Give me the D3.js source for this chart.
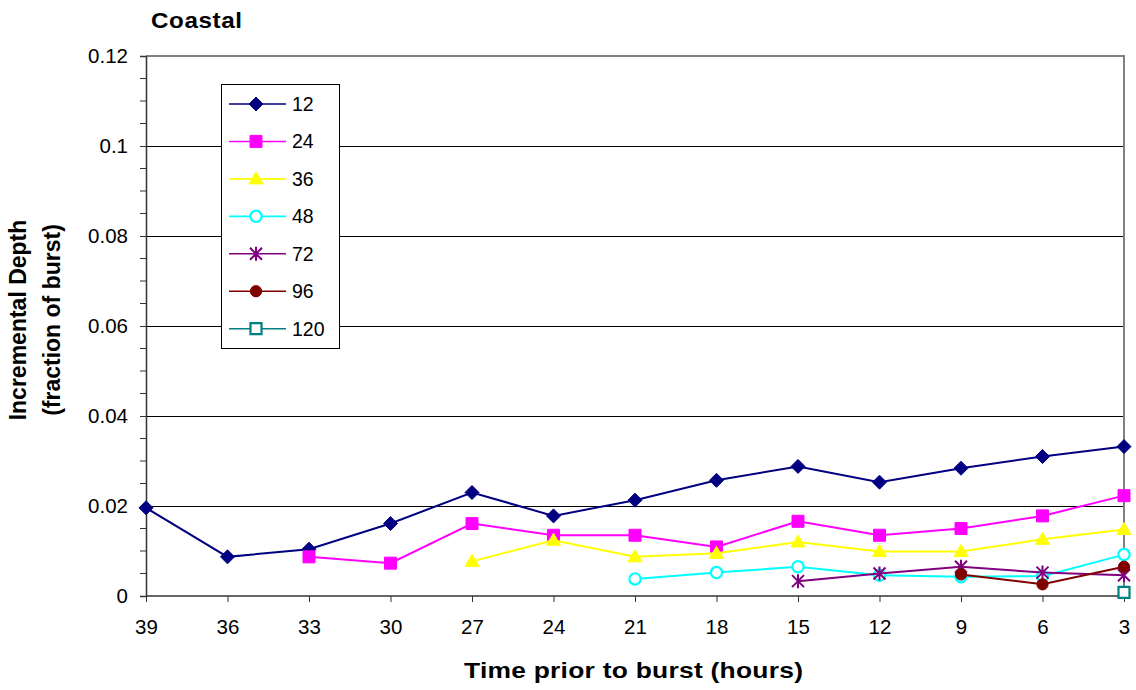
<!DOCTYPE html>
<html><head><meta charset="utf-8">
<script src="https://cdn.jsdelivr.net/npm/d3@7"></script>
<style>body{margin:0;background:#fff}svg{display:block}text{font-family:"Liberation Sans",Arial,sans-serif}</style>
</head><body>
<svg id="c" width="1136" height="690"></svg>
<script>
const hours = [39,36,33,30,27,24,21,18,15,12,9,6,3];
const s12  = [0.0196,0.0087,0.0104,0.0161,0.0230,0.0178,0.0213,0.0257,0.0288,0.0253,0.0284,0.0310,0.0332];
const s24  = [null,null,0.0087,0.0073,0.0161,0.0135,0.0135,0.0109,0.0166,0.0135,0.0150,0.0178,0.0223];
const s36  = [null,null,null,null,0.0077,0.0124,0.0087,0.0095,0.0120,0.0099,0.0099,0.0126,0.0148];
const s48  = [null,null,null,null,null,null,0.0038,0.0052,0.0065,0.0046,0.0043,0.0044,0.0092];
const s72  = [null,null,null,null,null,null,null,null,0.0033,0.0050,0.0065,0.0052,0.0046];
const s96  = [null,null,null,null,null,null,null,null,null,null,0.0048,0.0026,0.0065];
const s120 = [null,null,null,null,null,null,null,null,null,null,null,null,0.0008];
const seriesNames = ["12","24","36","48","72","96","120"];
const yTicks = [0,0.02,0.04,0.06,0.08,0.1,0.12];
const yTickLabels = ["0","0.02","0.04","0.06","0.08","0.1","0.12"];

const series = [
  {name:"12", values:s12, color:"#000080", marker:"diamond", fill:true},
  {name:"24", values:s24, color:"#ff00ff", marker:"square", fill:true},
  {name:"36", values:s36, color:"#ffff00", marker:"triangle", fill:true},
  {name:"48", values:s48, color:"#00ffff", marker:"circle", fill:false},
  {name:"72", values:s72, color:"#800080", marker:"star", fill:true},
  {name:"96", values:s96, color:"#800000", marker:"circle", fill:true},
  {name:"120", values:s120, color:"#008080", marker:"square", fill:false}
];

const svg = d3.select("#c");
const L=146, R=1124, T=56, B=596;
const x = d3.scalePoint().domain(hours).range([L,R]);
const y = d3.scaleLinear().domain([0,0.12]).range([B,T]);

// gridlines
svg.append("g").selectAll("line").data(yTicks.filter(d=>d>0 && d<0.12)).join("line")
  .attr("x1",L).attr("x2",R).attr("y1",d=>y(d)).attr("y2",d=>y(d))
  .attr("stroke","#000").attr("stroke-width",1).attr("shape-rendering","crispEdges");
// top/right border
svg.append("path").attr("d",`M${L},${y(0.12)}H${R}V${B}`).attr("fill","none")
  .attr("stroke","#808080").attr("stroke-width",1.5).attr("shape-rendering","crispEdges");

// y axis
const yAxis = d3.axisLeft(y).tickValues(yTicks).tickFormat((d,i)=>yTickLabels[i]).tickSize(6).tickPadding(12);
const ga = svg.append("g").attr("transform",`translate(${L},0)`).call(yAxis);
ga.select(".domain").attr("stroke","#333").attr("stroke-width",1.5);
ga.selectAll(".tick line").attr("stroke","#333");
ga.selectAll("text").attr("font-size",20.5).attr("fill","#000").style("font-family","Liberation Sans, Arial");
// minor ticks
const minor = d3.range(0,0.1201,0.005).filter(v=>Math.abs(v/0.02-Math.round(v/0.02))>1e-6);
svg.append("g").selectAll("line").data(minor).join("line")
  .attr("x1",L-6).attr("x2",L).attr("y1",d=>y(d)).attr("y2",d=>y(d)).attr("stroke","#333");

// x axis
const xAxis = d3.axisBottom(x).tickSize(6).tickPadding(17);
const gx = svg.append("g").attr("transform",`translate(0,${B})`).call(xAxis);
gx.select(".domain").attr("stroke","#333").attr("stroke-width",1.5).attr("d",`M${L},0H${R}`);
gx.selectAll(".tick line").attr("stroke","#333");
gx.selectAll("text").attr("font-size",20.5).attr("fill","#000").style("font-family","Liberation Sans, Arial");

function markerPath(type){
  switch(type){
    case "diamond": return "M0,-7L7,0L0,7L-7,0Z";
    case "square": return "M-6,-6H6V6H-6Z";
    case "triangle": return "M0,-7L7,5H-7Z";
    case "circle": return d3.symbol(d3.symbolCircle, 100)();
    case "star": return "M-6,-6L6,6M6,-6L-6,6M0,-7V7";
  }
}
function drawMarker(g, s, cx, cy){
  const p = g.append("path").attr("d", markerPath(s.marker)).attr("transform",`translate(${cx},${cy})`);
  if(s.marker==="star"){
    p.attr("fill","none").attr("stroke",s.color).attr("stroke-width",2);
  } else if(s.fill){
    p.attr("fill",s.color).attr("stroke",s.color).attr("stroke-width",1);
  } else {
    p.attr("fill","#fff").attr("stroke",s.color).attr("stroke-width",2.2);
  }
  if(s.name==="120"){ p.attr("d","M-5.5,-5.5H5.5V5.5H-5.5Z"); }
}

const line = d3.line().defined(d=>d.v!=null).x(d=>x(d.h)).y(d=>y(d.v));
series.forEach(s=>{
  const pts = hours.map((h,i)=>({h, v:s.values[i]}));
  const g = svg.append("g");
  g.append("path").datum(pts).attr("d",line).attr("fill","none").attr("stroke",s.color).attr("stroke-width",2);
  pts.filter(d=>d.v!=null).forEach(d=>drawMarker(g,s,x(d.h),y(d.v)));
});

// legend
const lg = svg.append("g");
lg.append("rect").attr("x",221).attr("y",84).attr("width",118).attr("height",264)
  .attr("fill","#fff").attr("stroke","#000").attr("stroke-width",1).attr("shape-rendering","crispEdges");
series.forEach((s,i)=>{
  const ly = 104 + i*37.45;
  lg.append("line").attr("x1",229).attr("x2",286).attr("y1",ly).attr("y2",ly).attr("stroke",s.color).attr("stroke-width",1.6);
  drawMarker(lg,s,256,ly);
  lg.append("text").attr("x",292).attr("y",ly+7).attr("font-size",19.5).text(seriesNames[i]);
});

// titles
svg.append("text").attr("transform","translate(151,28) scale(1.1,1)").attr("font-size",22).attr("font-weight","bold")
  .attr("textLength",82.7).attr("lengthAdjust","spacing").text("Coastal");
svg.append("text").attr("transform","translate(464,678) scale(1.2,1)").attr("font-size",22).attr("font-weight","bold")
  .attr("textLength",282.5).attr("lengthAdjust","spacing").text("Time prior to burst (hours)");
const yt = svg.append("text").attr("transform",`translate(26,320) rotate(-90)`).attr("font-size",23).attr("font-weight","bold").attr("text-anchor","middle");
yt.append("tspan").attr("x",0).attr("y",0).text("Incremental Depth");
yt.append("tspan").attr("x",0).attr("y",34).text("(fraction of burst)");
</script>
</body></html>
